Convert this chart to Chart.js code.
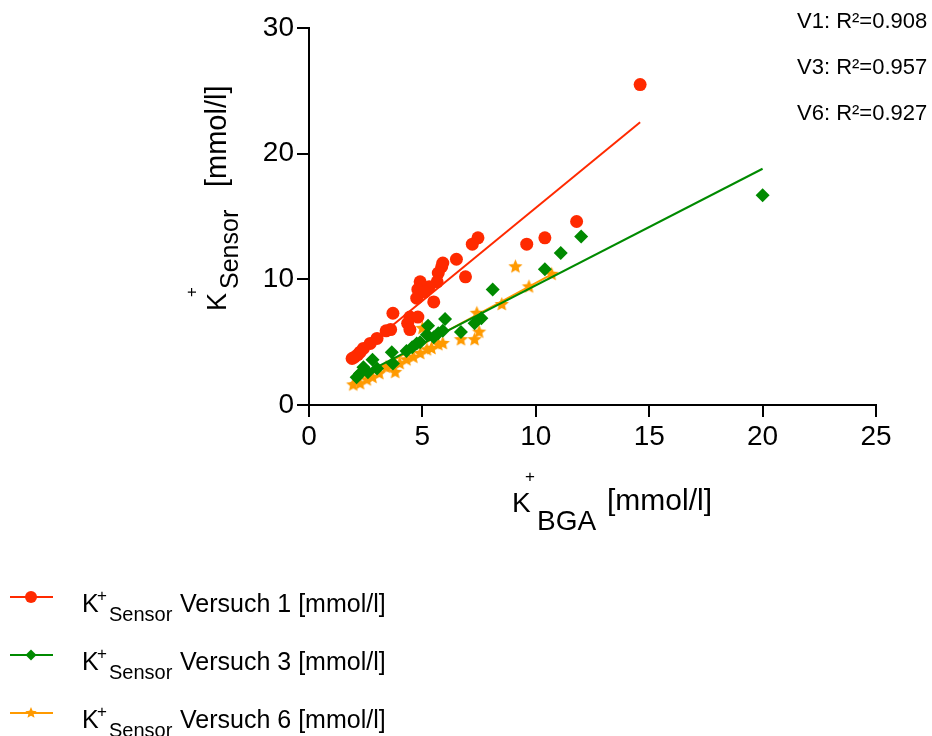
<!DOCTYPE html>
<html>
<head>
<meta charset="utf-8">
<script src="https://cdn.jsdelivr.net/npm/chart.js@4/dist/chart.umd.min.js"></script>
<style>
body { margin:0; background:#fff; }
#wrap { width:932px; height:736px; }
</style>
</head>
<body>
<div id="wrap"><canvas id="grafico" width="932" height="736"></canvas></div>
<script>
// Versuch 1 (rot)
const v1X = [14.6, 11.8, 10.4, 9.6, 7.45, 7.2, 6.9, 6.5, 5.9, 5.85, 5.7, 5.65, 5.3, 5.5, 4.9, 4.8, 4.75, 5.1, 3.7, 4.45, 4.8, 4.35, 4.45, 3.6, 3.4, 3.0, 2.7, 2.4, 2.25, 2.15, 2.0, 1.9];
const v1Y = [25.5, 14.6, 13.3, 12.8, 13.3, 12.8, 10.2, 11.6, 11.3, 11.0, 10.5, 9.8, 9.4, 8.2, 9.8, 9.2, 8.5, 9.0, 7.3, 7.0, 7.0, 6.5, 6.0, 6.0, 5.9, 5.3, 4.9, 4.5, 4.2, 4.0, 3.8, 3.7];
// Versuch 3 (gruen)
const v3X = [20.0, 12.0, 11.1, 10.4, 8.1, 7.6, 7.3, 6.7, 6.0, 5.9, 5.7, 5.25, 5.5, 5.2, 4.9, 4.75, 4.55, 4.3, 3.65, 3.7, 3.0, 2.8, 2.6, 2.4, 2.25, 2.1];
const v3Y = [16.7, 13.4, 12.1, 10.8, 9.2, 6.9, 6.5, 5.8, 6.85, 5.9, 5.7, 6.3, 5.4, 5.6, 5.0, 4.9, 4.6, 4.3, 4.2, 3.3, 2.9, 3.6, 2.6, 3.0, 2.5, 2.2];
// Versuch 6 (orange)
const v6X = [10.7, 9.7, 9.1, 8.5, 7.4, 7.5, 7.3, 6.7, 5.0, 5.9, 5.7, 5.4, 5.2, 4.9, 4.6, 4.3, 4.0, 3.8, 3.6, 3.4, 3.1, 2.8, 2.55, 2.25, 1.95];
const v6Y = [10.4, 9.4, 11.0, 8.0, 7.3, 5.8, 5.2, 5.2, 6.1, 4.9, 4.8, 4.5, 4.4, 4.1, 3.8, 3.6, 3.3, 2.6, 3.1, 3.0, 2.5, 2.2, 2.0, 1.7, 1.6];

const fit1X = [1.9, 14.6], fit1Y = [3.7, 22.5];
const fit3X = [2.0, 20.0], fit3Y = [2.1, 18.8];
const fit6X = [1.8, 10.7], fit6Y = [1.7, 10.4];

const xTicks = [0, 5, 10, 15, 20, 25];
const yTicks = [0, 10, 20, 30];
const r2Texte = ['V1: R²=0.908', 'V3: R²=0.957', 'V6: R²=0.927'];
const legendeNamen = ['Versuch 1 [mmol/l]', 'Versuch 3 [mmol/l]', 'Versuch 6 [mmol/l]'];

const ROT = '#ff2a00', GRUEN = '#008a00', ORANGE = '#ff9a00';
const FONT = "'Liberation Sans', Arial, sans-serif";

function paare(xs, ys) { return xs.map((x, i) => ({ x: x, y: ys[i] })); }

function estrela(r, cor) {
    const s = Math.ceil(r * 2 + 2);
    const c = document.createElement('canvas');
    c.width = s; c.height = s;
    const g = c.getContext('2d');
    g.beginPath();
    for (let i = 0; i < 10; i++) {
        const rad = i % 2 ? r * 0.45 : r;
        const a = -Math.PI / 2 + i * Math.PI / 5;
        g.lineTo(s / 2 + rad * Math.cos(a), s / 2 + rad * Math.sin(a));
    }
    g.closePath(); g.fillStyle = cor; g.fill();
    return c;
}
const sternGross = estrela(7.5, ORANGE);

function linie(xs, ys, cor, ord) {
    return { data: paare(xs, ys), showLine: true, borderColor: cor, borderWidth: 2, pointRadius: 0, fill: false, order: ord };
}

const textePlugin = {
    id: 'texte',
    afterDraw(chart) {
        const ctx = chart.ctx;
        ctx.save();
        ctx.fillStyle = '#000';
        ctx.textBaseline = 'alphabetic';
        ctx.textAlign = 'left';

        // R² oben rechts
        ctx.font = '22px ' + FONT;
        r2Texte.forEach((t, i) => ctx.fillText(t, 797, 28 + i * 46));

        // x-Achsentitel
        ctx.font = '28px ' + FONT;
        ctx.fillText('K', 512, 512);
        ctx.font = '17px ' + FONT;
        ctx.fillText('+', 525, 482);
        ctx.font = '28px ' + FONT;
        ctx.fillText('BGA', 537, 530);
        ctx.font = '30px ' + FONT;
        ctx.fillText('[mmol/l]', 607, 510);

        // y-Achsentitel (gedreht)
        ctx.save();
        ctx.translate(226, 311);
        ctx.rotate(-Math.PI / 2);
        ctx.font = '27px ' + FONT;
        ctx.fillText('K', 0, 0);
        ctx.font = '17px ' + FONT;
        ctx.fillText('+', 14, -29);
        ctx.font = '25px ' + FONT;
        ctx.fillText('Sensor', 22, 12);
        ctx.font = '29px ' + FONT;
        ctx.fillText('[mmol/l]', 124, 0);
        ctx.restore();

        // Legende
        const farben = [ROT, GRUEN, ORANGE];
        const zeilen = [597, 655, 713];
        legendeNamen.forEach((nome, i) => {
            const y = zeilen[i];
            ctx.strokeStyle = farben[i]; ctx.lineWidth = 2;
            ctx.beginPath(); ctx.moveTo(10, y); ctx.lineTo(53, y); ctx.stroke();
            ctx.fillStyle = farben[i];
            ctx.beginPath();
            if (i === 0) ctx.arc(31, y, 6, 0, Math.PI * 2);
            else if (i === 1) { ctx.moveTo(31, y - 5.5); ctx.lineTo(36.5, y); ctx.lineTo(31, y + 5.5); ctx.lineTo(25.5, y); ctx.closePath(); }
            else { for (let k = 0; k < 10; k++) { const rad = k % 2 ? 2.7 : 6; const a = -Math.PI / 2 + k * Math.PI / 5; ctx.lineTo(31 + rad * Math.cos(a), y + rad * Math.sin(a)); } ctx.closePath(); }
            ctx.fill();
            ctx.fillStyle = '#000';
            const base = y + 15;
            ctx.font = '25px ' + FONT;
            ctx.fillText('K', 82, base);
            ctx.font = '17px ' + FONT;
            ctx.fillText('+', 97, base - 11);
            ctx.font = '20px ' + FONT;
            ctx.fillText('Sensor', 109, base + 9);
            ctx.font = '25px ' + FONT;
            ctx.fillText(nome, 180, base);
        });
        ctx.restore();
    }
};

const eixo = {
    type: 'linear',
    ticks: { color: '#000', font: { family: FONT, size: 28 }, padding: 3 },
    grid: { drawOnChartArea: false, color: '#000', lineWidth: 2, tickLength: 12, tickWidth: 2 },
    border: { color: '#000', width: 2 }
};

new Chart(document.getElementById('grafico'), {
    type: 'scatter',
    data: {
        datasets: [
            { data: paare(v1X, v1Y), backgroundColor: ROT, borderColor: ROT, pointStyle: 'circle', pointRadius: 6.5, borderWidth: 0, order: 1 },
            linie(fit1X, fit1Y, ROT, 2),
            { data: paare(v3X, v3Y), backgroundColor: GRUEN, borderColor: GRUEN, pointStyle: 'rectRot', pointRadius: 7, borderWidth: 0, order: 3 },
            linie(fit3X, fit3Y, GRUEN, 4),
            { data: paare(v6X, v6Y), backgroundColor: ORANGE, borderColor: ORANGE, pointStyle: sternGross, pointRadius: 7, order: 5 },
            linie(fit6X, fit6Y, ORANGE, 6)
        ]
    },
    options: {
        responsive: false,
        animation: false,
        events: [],
        layout: { padding: { left: 0, top: 28, right: 56, bottom: 271 } },
        plugins: { legend: { display: false }, tooltip: { enabled: false } },
        scales: {
            x: Object.assign({}, eixo, {
                min: 0, max: 25,
                afterBuildTicks: s => { s.ticks = xTicks.map(v => ({ value: v })); },
                afterFit: s => { s.height = 60; }
            }),
            y: Object.assign({}, eixo, {
                min: 0, max: 30,
                afterBuildTicks: s => { s.ticks = yTicks.map(v => ({ value: v })); },
                afterFit: s => { s.width = 309; }
            })
        }
    },
    plugins: [textePlugin]
});
</script>
</body>
</html>
